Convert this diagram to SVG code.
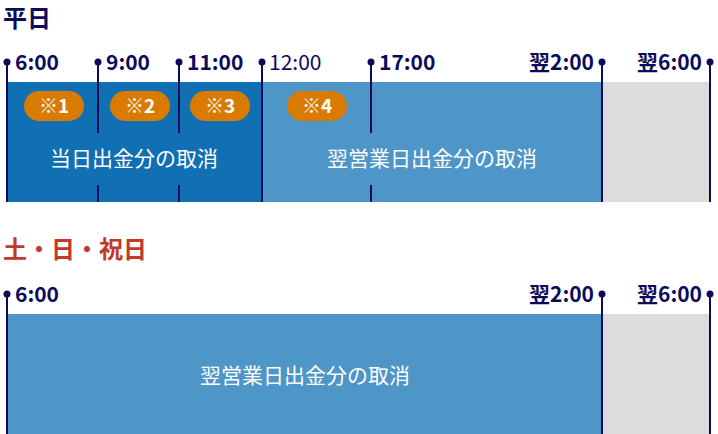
<svg xmlns="http://www.w3.org/2000/svg" width="718" height="434" viewBox="0 0 718 434">
<style>
.t{font-family:"Noto Sans CJK JP","Liberation Sans",sans-serif;font-weight:bold;fill:#0b0b5c;font-size:21px}
.w{font-family:"Noto Sans CJK JP","Liberation Sans",sans-serif;fill:#fff;font-size:21px;text-anchor:middle}
.pw{font-family:"Noto Sans CJK JP","Liberation Sans",sans-serif;font-weight:bold;fill:#fff;font-size:19px;text-anchor:middle}
.l{stroke:#0b0b5c;stroke-width:2}
.d{fill:#0b0b5c}
.p{fill:#d97b00}
</style>
<rect width="718" height="434" fill="#fff"/>
<text class="t" x="3" y="27" font-size="24" style="font-size:24px">平日</text>
<text x="3" y="258" style="font-family:'Noto Sans CJK JP',sans-serif;font-weight:bold;font-size:24px;fill:#c0392b">土・日・祝日</text>
<g id="weekday">
<rect x="7" y="82" width="255" height="120" fill="#1170b4"/>
<rect x="262" y="82" width="340" height="120" fill="#4e95c8"/>
<rect x="602" y="82" width="108" height="120" fill="#dcdcdc"/>
<g id="pills">
<rect class="p" x="24" y="91" width="60" height="30" rx="15"/><text class="pw" x="54" y="113">※1</text>
<rect class="p" x="110" y="91" width="60" height="30" rx="15"/><text class="pw" x="140" y="113">※2</text>
<rect class="p" x="190" y="91" width="60" height="30" rx="15"/><text class="pw" x="220" y="113">※3</text>
<rect class="p" x="287" y="91" width="60" height="30" rx="15"/><text class="pw" x="317" y="113">※4</text>
</g>
<text class="w" x="134" y="166">当日出金分の取消</text>
<text class="w" x="432" y="166">翌営業日出金分の取消</text>
</g>
<g id="weekend">
<rect x="7" y="314" width="595" height="120" fill="#4e95c8"/>
<rect x="602" y="314" width="108" height="120" fill="#dcdcdc"/>
<text class="w" x="305" y="383">翌営業日出金分の取消</text>
</g>
<g id="connectors">
<line class="l" x1="7" y1="62" x2="7" y2="202"/>
<line class="l" x1="98" y1="62" x2="98" y2="133"/><line class="l" x1="98" y1="185" x2="98" y2="202"/>
<line class="l" x1="179" y1="62" x2="179" y2="133"/><line class="l" x1="179" y1="185" x2="179" y2="202"/>
<line class="l" x1="262" y1="62" x2="262" y2="202"/>
<line class="l" x1="371" y1="62" x2="371" y2="133"/><line class="l" x1="371" y1="185" x2="371" y2="202"/>
<line class="l" x1="602" y1="62" x2="602" y2="202"/>
<line class="l" x1="710" y1="62" x2="710" y2="202"/>
<circle class="d" cx="7" cy="62" r="3.5"/><circle class="d" cx="98" cy="62" r="3.5"/><circle class="d" cx="179" cy="62" r="3.5"/><circle class="d" cx="262" cy="62" r="3.5"/><circle class="d" cx="371" cy="62" r="3.5"/><circle class="d" cx="602" cy="62" r="3.5"/><circle class="d" cx="710" cy="62" r="3.5"/>
<line class="l" x1="7" y1="294" x2="7" y2="434"/>
<line class="l" x1="602" y1="294" x2="602" y2="434"/>
<line class="l" x1="710" y1="294" x2="710" y2="434"/>
<circle class="d" cx="7" cy="294" r="3.5"/><circle class="d" cx="602" cy="294" r="3.5"/><circle class="d" cx="710" cy="294" r="3.5"/>
</g>
<g id="labels">
<text class="t" x="15" y="70">6:00</text>
<text class="t" x="106" y="70">9:00</text>
<text class="t" x="187" y="70">11:00</text>
<text class="t" x="269" y="70" style="font-weight:normal">12:00</text>
<text class="t" x="379" y="70">17:00</text>
<text class="t" x="594" y="70" text-anchor="end">翌2:00</text>
<text class="t" x="702" y="70" text-anchor="end">翌6:00</text>
<text class="t" x="15" y="302">6:00</text>
<text class="t" x="594" y="302" text-anchor="end">翌2:00</text>
<text class="t" x="702" y="302" text-anchor="end">翌6:00</text>
</g>
</svg>
